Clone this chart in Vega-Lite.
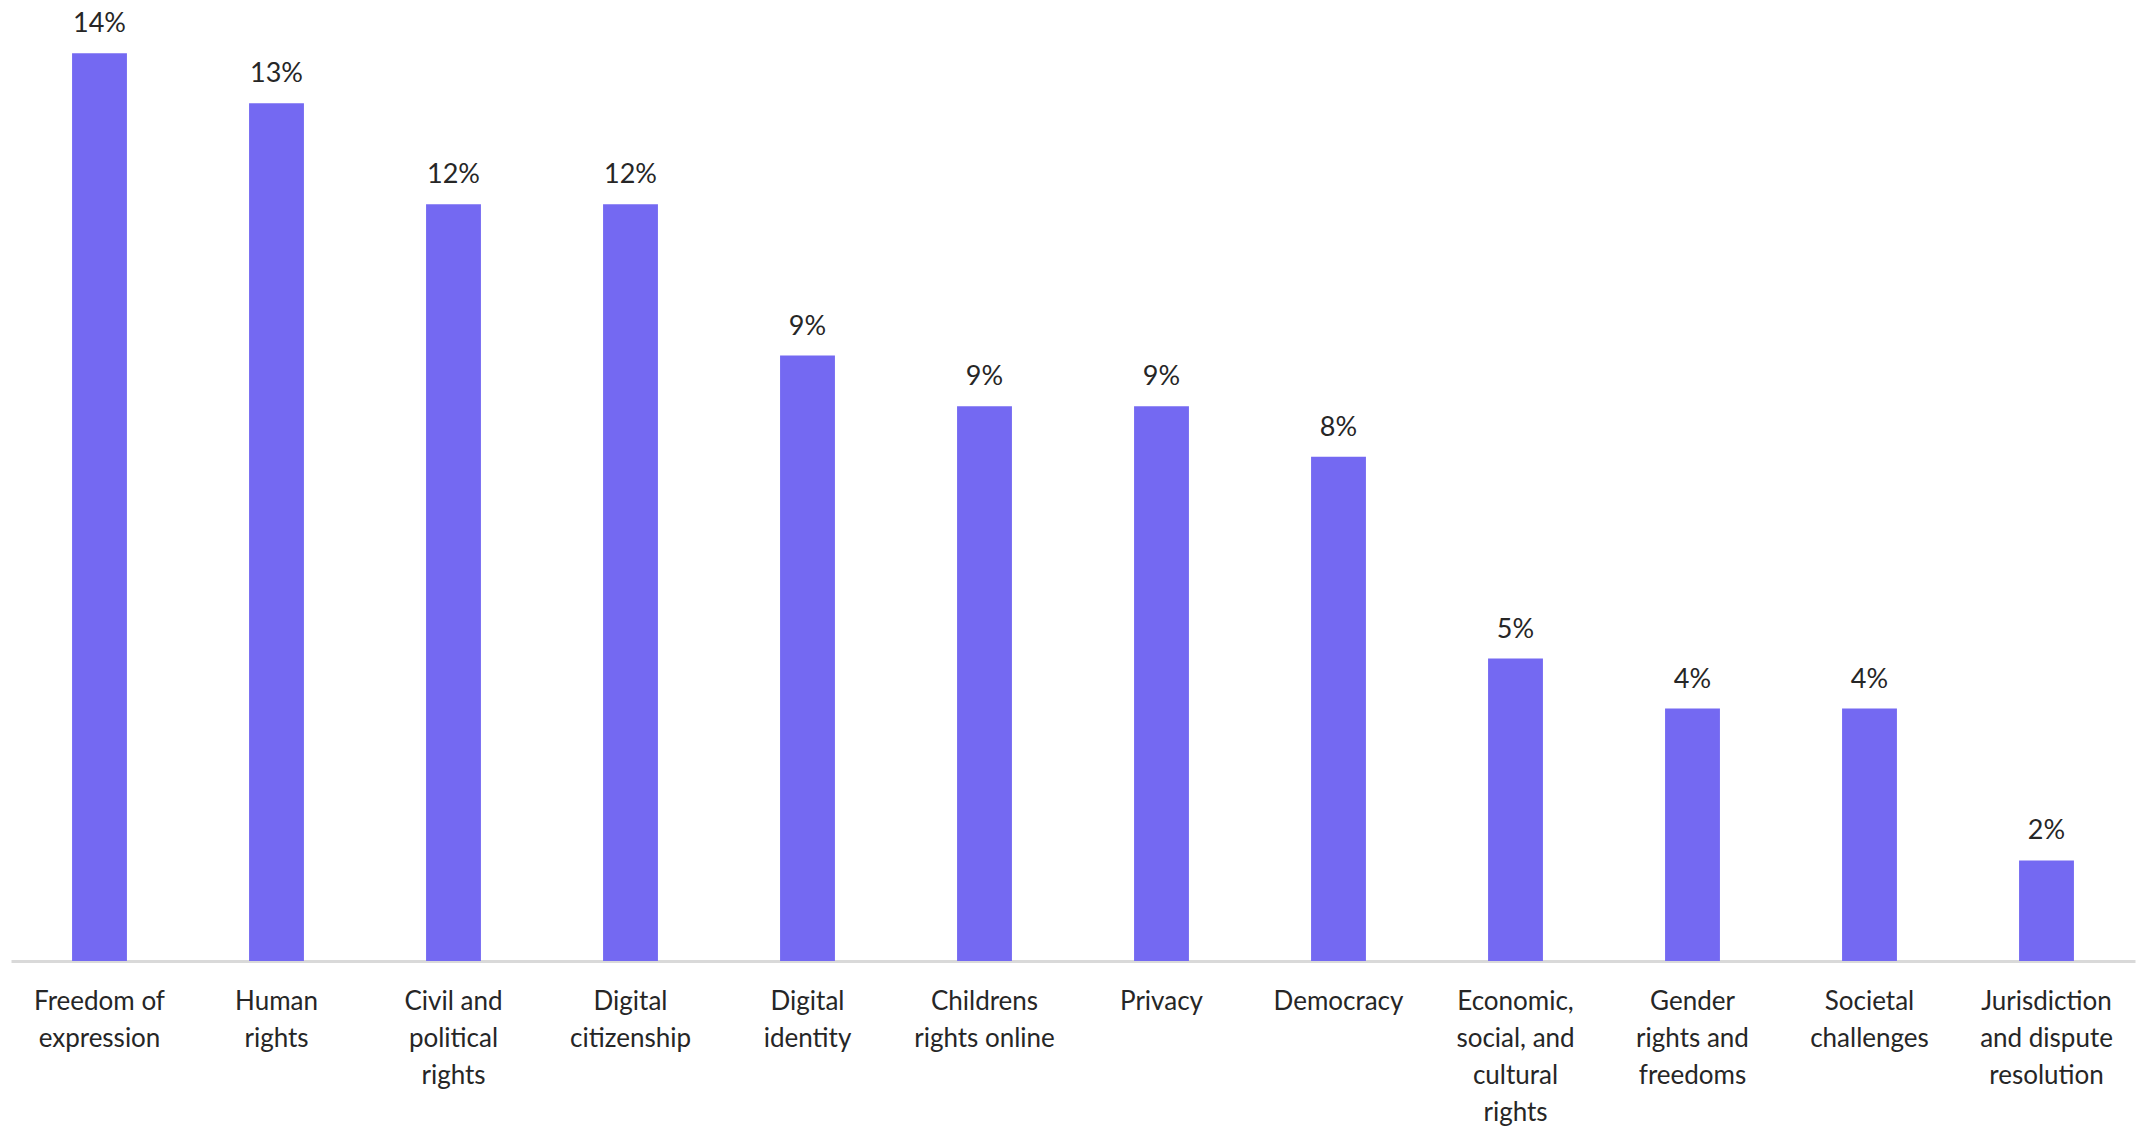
{
  "$schema": "https://vega.github.io/schema/vega-lite/v6.json",
  "width": 2124,
  "height": 961,
  "autosize": "none",
  "padding": {"left": 11, "top": 0, "right": 6, "bottom": 168},
  "background": "white",
  "config": {"view": {"stroke": null}, "font": "Lato"},
  "data": {"values": [
    {"topic": "Freedom of\nexpression", "share": 0.1417},
    {"topic": "Human\nrights", "share": 0.1339},
    {"topic": "Civil and\npolitical\nrights", "share": 0.1181},
    {"topic": "Digital\ncitizenship", "share": 0.1181},
    {"topic": "Digital\nidentity", "share": 0.0945},
    {"topic": "Childrens\nrights online", "share": 0.0866},
    {"topic": "Privacy", "share": 0.0866},
    {"topic": "Democracy", "share": 0.0787},
    {"topic": "Economic,\nsocial, and\ncultural\nrights", "share": 0.0472},
    {"topic": "Gender\nrights and\nfreedoms", "share": 0.0394},
    {"topic": "Societal\nchallenges", "share": 0.0394},
    {"topic": "Jurisdiction\nand dispute\nresolution", "share": 0.0157}
  ]},
  "encoding": {
    "x": {"field": "topic", "type": "nominal", "sort": null,
      "scale": {"paddingInner": 0.69, "paddingOuter": 0.345},
      "axis": {"title": null, "labelAngle": 0, "ticks": false,
        "labelExpr": "split(datum.label, '\\n')",
        "labelFont": "Lato", "labelFontSize": 26, "labelColor": "#262626",
        "labelLineHeight": 37, "labelPadding": 27, "labelBaseline": "top",
        "domainColor": "#D9D9D9", "domainWidth": 3}},
    "y": {"field": "share", "type": "quantitative",
      "scale": {"domain": [0, 0.15]}, "axis": null}
  },
  "layer": [
    {"mark": {"type": "bar", "color": "#7469F2"}},
    {"mark": {"type": "text", "baseline": "alphabetic", "dy": -21, "font": "Lato", "fontSize": 27, "color": "#262626"},
     "encoding": {"text": {"field": "share", "type": "quantitative", "format": ".0%"}}}
  ]
}
